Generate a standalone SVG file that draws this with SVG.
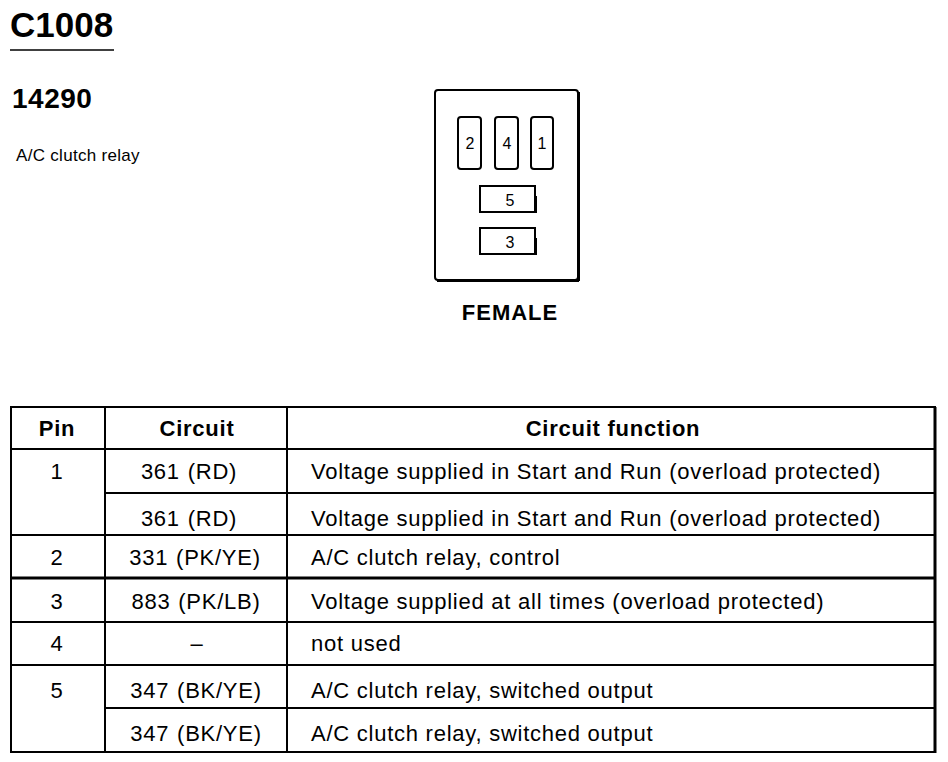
<svg xmlns="http://www.w3.org/2000/svg" width="948" height="762" viewBox="0 0 948 762">
<style>
text{font-family:"Liberation Sans",Arial,sans-serif;fill:#000}
.b{font-weight:bold}
.t{font-size:22px;letter-spacing:0.75px}
.c{text-anchor:middle}
.ln{stroke:#000;stroke-width:2;fill:none}
.pin{fill:#fff;stroke:#000;stroke-width:2}
.pt{font-size:16px;text-anchor:middle}
</style>
<rect width="948" height="762" fill="#fff"/>
<g id="title">
<text x="10" y="37" class="b" font-size="35">C1008</text>
<line x1="10" y1="50" x2="114" y2="50" stroke="#000" stroke-width="1.5"/>
<text x="12" y="108" class="b" font-size="28" letter-spacing="0.5">14290</text>
<text x="16" y="161" font-size="17" letter-spacing="0.3">A/C clutch relay</text>
</g>
<g id="connector">
<rect x="435" y="90" width="143" height="190" rx="3" class="ln"/>
<line x1="579" y1="92" x2="579" y2="281" stroke="#000" stroke-width="2"/>
<line x1="437" y1="281" x2="579" y2="281" stroke="#000" stroke-width="2"/>
<g id="pin2"><rect x="458" y="117" width="23" height="52" rx="3" class="pin"/><text x="470" y="149" class="pt">2</text></g>
<g id="pin4"><rect x="495" y="117" width="23" height="52" rx="3" class="pin"/><text x="507" y="149" class="pt">4</text></g>
<g id="pin1"><rect x="531" y="117" width="22" height="52" rx="3" class="pin"/><text x="542" y="149" class="pt">1</text></g>
<g id="pin5"><rect x="480" y="186" width="55" height="26" class="pin"/><line x1="536" y1="196" x2="536" y2="213" stroke="#000" stroke-width="2"/><text x="510" y="206" class="pt">5</text></g>
<g id="pin3"><rect x="480" y="228" width="55" height="26" class="pin"/><line x1="536" y1="238" x2="536" y2="255" stroke="#000" stroke-width="2"/><text x="510" y="248" class="pt">3</text></g>
<text x="510" y="320" class="b c" font-size="22" letter-spacing="1">FEMALE</text>
</g>
<g id="table">
<rect x="11" y="407" width="924" height="345" class="ln"/>
<line x1="935" y1="407" x2="935" y2="753" stroke="#000" stroke-width="3"/>
<line x1="105" y1="407" x2="105" y2="752" class="ln"/>
<line x1="287" y1="407" x2="287" y2="752" class="ln"/>
<line x1="11" y1="449" x2="935" y2="449" class="ln"/>
<line x1="105" y1="493" x2="935" y2="493" class="ln"/>
<line x1="11" y1="535" x2="935" y2="535" class="ln"/>
<line x1="11" y1="578" x2="935" y2="578" stroke="#000" stroke-width="3"/>
<line x1="11" y1="622" x2="935" y2="622" class="ln"/>
<line x1="11" y1="665" x2="935" y2="665" class="ln"/>
<line x1="105" y1="708" x2="935" y2="708" class="ln"/>
<text x="57" y="436" class="b c t">Pin</text>
<text x="197" y="436" class="b c t">Circuit</text>
<text x="613" y="436" class="b c t">Circuit function</text>
<text x="57" y="479" class="c t">1</text>
<text x="189" y="479" class="c t" word-spacing="1">361 (RD)</text>
<text x="311" y="479" class="t">Voltage supplied in Start and Run (overload protected)</text>
<text x="189" y="526" class="c t" word-spacing="1">361 (RD)</text>
<text x="311" y="526" class="t">Voltage supplied in Start and Run (overload protected)</text>
<text x="57" y="565" class="c t">2</text>
<text x="195" y="565" class="c t" word-spacing="1">331 (PK/YE)</text>
<text x="311" y="565" class="t">A/C clutch relay, control</text>
<text x="57" y="609" class="c t">3</text>
<text x="196" y="609" class="c t" word-spacing="1">883 (PK/LB)</text>
<text x="311" y="609" class="t">Voltage supplied at all times (overload protected)</text>
<text x="57" y="651" class="c t">4</text>
<text x="197" y="651" class="c t">–</text>
<text x="311" y="651" class="t">not used</text>
<text x="57" y="698" class="c t">5</text>
<text x="196" y="698" class="c t" word-spacing="1">347 (BK/YE)</text>
<text x="311" y="698" class="t">A/C clutch relay, switched output</text>
<text x="196" y="741" class="c t" word-spacing="1">347 (BK/YE)</text>
<text x="311" y="741" class="t">A/C clutch relay, switched output</text>
</g>
</svg>
